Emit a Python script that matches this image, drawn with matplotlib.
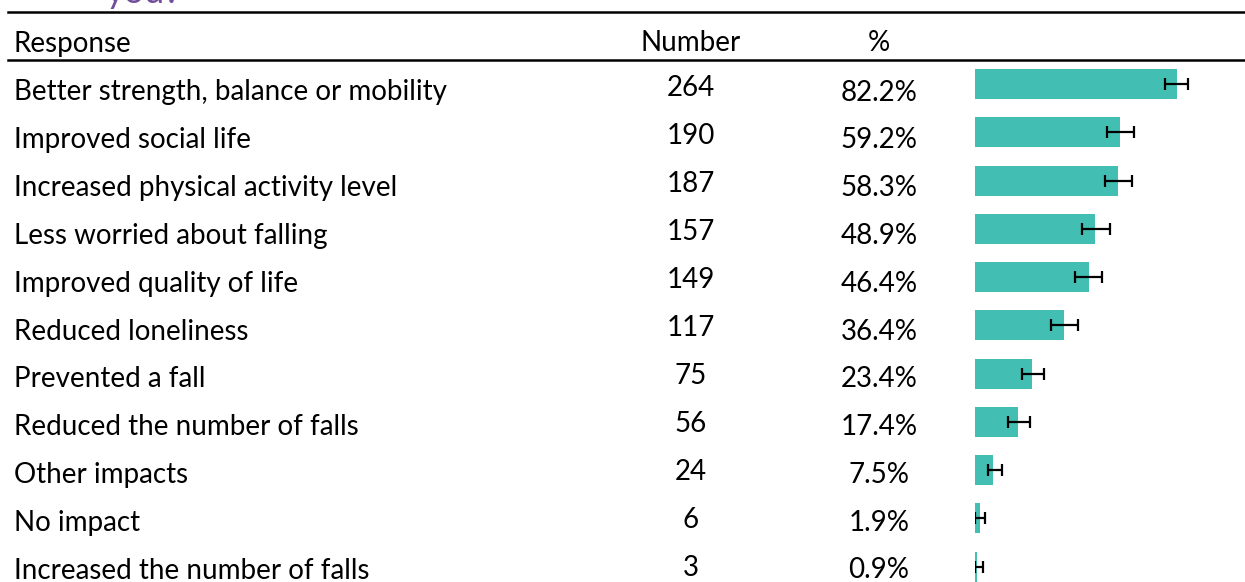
import matplotlib
matplotlib.use("Agg")
import matplotlib.pyplot as plt
from matplotlib.lines import Line2D
import numpy as np

# Survey responses: reported impact of the programme
responses = [
    "Better strength, balance or mobility",
    "Improved social life",
    "Increased physical activity level",
    "Less worried about falling",
    "Improved quality of life",
    "Reduced loneliness",
    "Prevented a fall",
    "Reduced the number of falls",
    "Other impacts",
    "No impact",
    "Increased the number of falls",
]
counts = [264, 190, 187, 157, 149, 117, 75, 56, 24, 6, 3]
percents = [82.2, 59.2, 58.3, 48.9, 46.4, 36.4, 23.4, 17.4, 7.5, 1.9, 0.9]
# 95% confidence interval bounds (%)
ci_low = [77.4, 53.7, 53.0, 43.6, 40.8, 31.0, 19.1, 13.3, 5.2, 0.0, 0.0]
ci_high = [86.7, 64.7, 63.9, 55.0, 51.8, 41.9, 28.1, 22.4, 11.1, 4.1, 3.4]
headers = ["Response", "Number", "%"]

W, H = 1245, 582
plt.rcParams["font.family"] = ["Lato", "DejaVu Sans"]
fig = plt.figure(figsize=(W / 100, H / 100), dpi=100)

FS = 20
BAR_COLOR = "#42BEB3"


def fy(px):
    """Figure fraction for a pixel row measured from the top."""
    return 1 - px / H


# Bar axes: x in percent, y in row index
row_px = 48.25
first_px = 84.0
bar_left_px = 975.0
px_per_pct = 2.457
ax = fig.add_axes([bar_left_px / W, 0.0, 100 * px_per_pct / W, 1.0])
ax.set_xlim(0, 100)
ax.set_ylim((H - first_px) / row_px, -first_px / row_px)
ax.axis("off")

rows = np.arange(len(responses))
pct = np.array(percents)
xerr = np.vstack([pct - np.array(ci_low), np.array(ci_high) - pct])
ax.barh(rows, pct, height=30 / row_px, color=BAR_COLOR, edgecolor="none")
ax.errorbar(pct, rows, xerr=xerr, fmt="none", ecolor="black",
            elinewidth=1.6, capsize=4, capthick=1.6)

# Table text rows
for i, (lab, n, p) in enumerate(zip(responses, counts, percents)):
    fig.text(14 / W, fy(100 + 47.9 * i), lab, ha="left",
             va="baseline", fontsize=FS, color="black")
    fig.text(691 / W, fy(96.5 + 47.9 * i), f"{n}", ha="center",
             va="baseline", fontsize=FS, color="black")
    fig.text(879 / W, fy(100.5 + 47.8 * i), f"{p:.1f}%", ha="center",
             va="baseline", fontsize=FS, color="black")

# Header row
fig.text(14 / W, fy(52), headers[0], ha="left", va="baseline", fontsize=FS)
fig.text(691 / W, fy(51), headers[1], ha="center", va="baseline", fontsize=FS)
fig.text(879 / W, fy(51), headers[2], ha="center", va="baseline", fontsize=FS)

# Tail of the title running above the table
fig.text(106 / W, fy(3), "you?", ha="left", va="baseline",
         fontsize=26, color="#6F4E9C")

# Table rules
for y in (12, 60):
    fig.add_artist(Line2D([8 / W, 1.0], [fy(y), fy(y)],
                          transform=fig.transFigure, color="black", lw=1.8))

fig.savefig("out.png", dpi=100)
